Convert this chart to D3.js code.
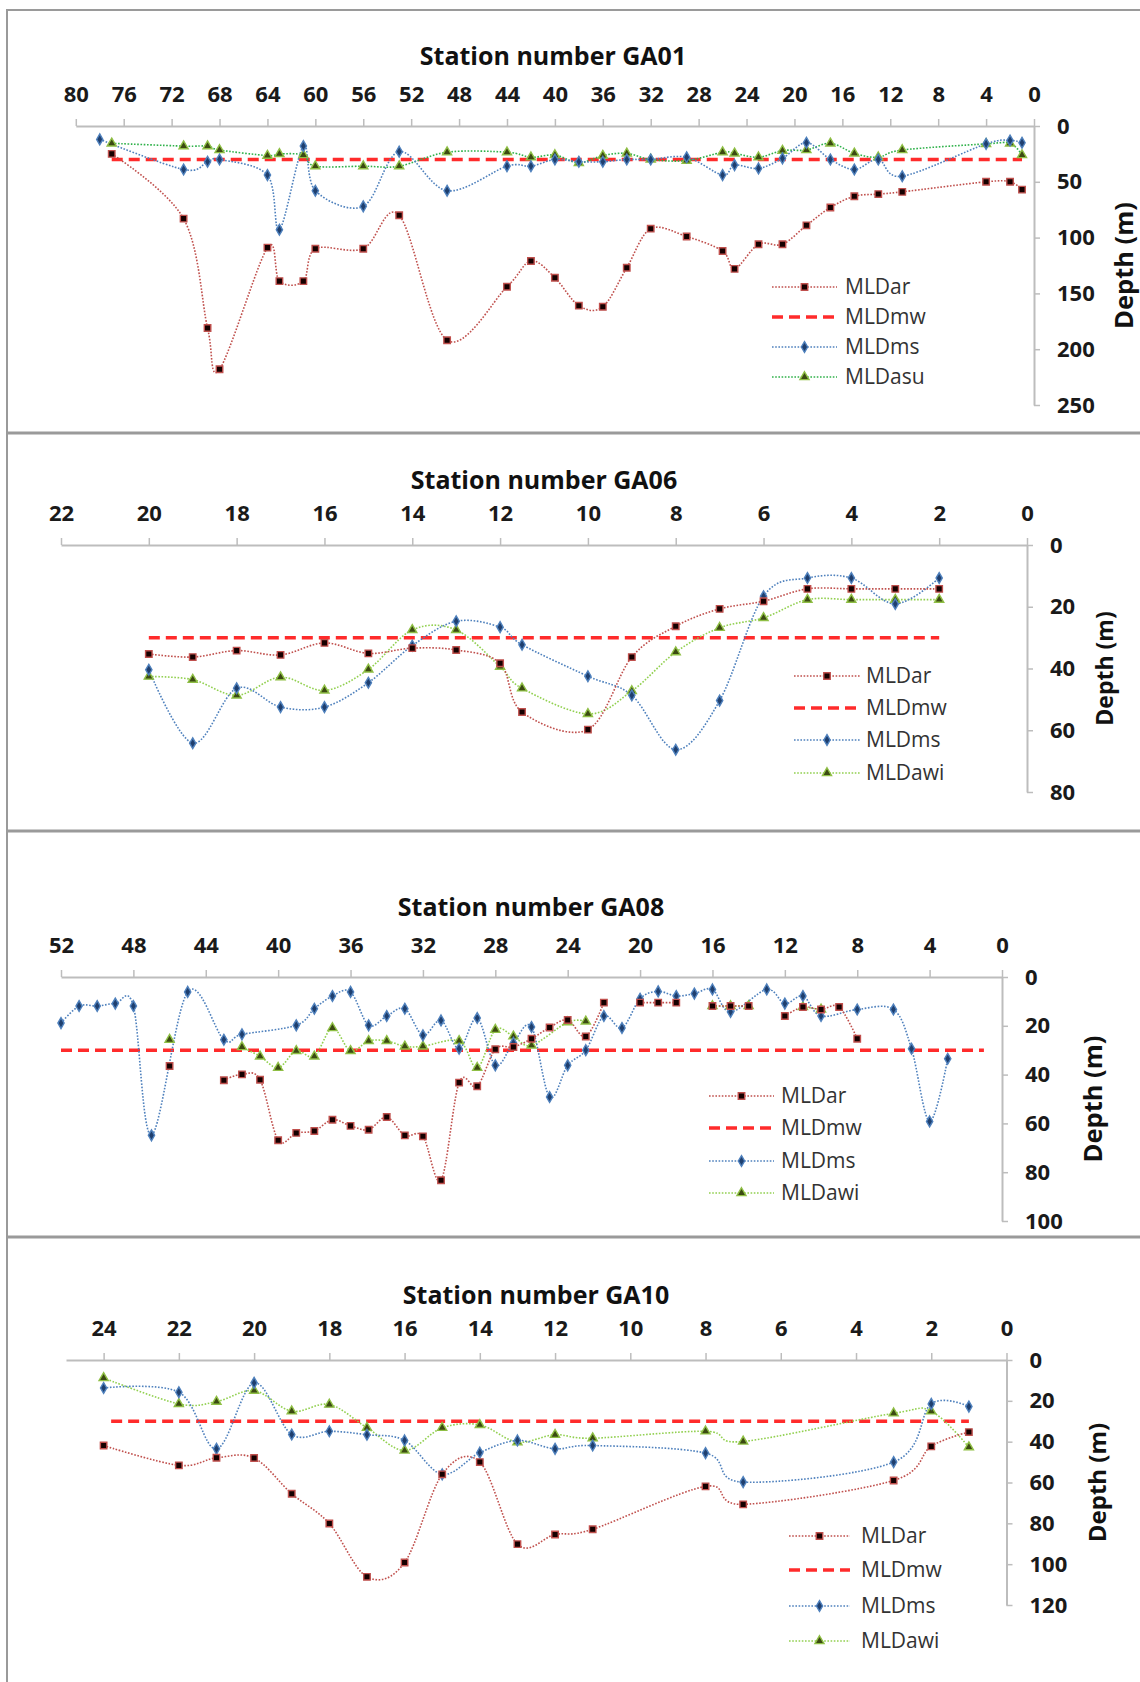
<!DOCTYPE html>
<html>
<head>
<meta charset="utf-8">
<script src="https://d3js.org/d3.v7.min.js"></script>
<style>
  body { margin: 0; background: #fff; }
  svg text { font-family: "Open Sans", "Noto Sans", sans-serif; }
</style>
</head>
<body>
<svg id="chart" width="1140" height="1682"></svg>
<script>
// ---------- data ----------
const seriesNames1 = ["MLDar", "MLDmw", "MLDms", "MLDasu"];
const seriesNames = ["MLDar", "MLDmw", "MLDms", "MLDawi"];
const mixedLayerRef = 30; // MLDmw constant

// GA01
const ga01XTicks = [80, 76, 72, 68, 64, 60, 56, 52, 48, 44, 40, 36, 32, 28, 24, 20, 16, 12, 8, 4, 0];
const ga01YTicks = [0, 50, 100, 150, 200, 250];
const ga01ArSt = [77, 71, 69, 68, 64, 63, 61, 60, 56, 53, 49, 44, 42, 40, 38, 36, 34, 32, 29, 26, 25, 23, 21, 19, 17, 15, 13, 11, 4, 2, 1];
const ga01Ar = [25, 83, 181, 218, 109, 139, 139, 110, 110, 80, 192, 144, 121, 136, 161, 162, 127, 92, 99, 112, 128, 106, 106, 89, 73, 63, 61, 59, 50, 50, 57];
const ga01MsSt = [78, 71, 69, 68, 64, 63, 61, 60, 56, 53, 49, 44, 42, 40, 38, 36, 34, 32, 29, 26, 25, 23, 21, 19, 17, 15, 13, 11, 4, 2, 1];
const ga01Ms = [12, 39, 32, 30, 44, 93, 18, 58, 72, 23, 58, 36, 36, 30, 32, 32, 30, 30, 28, 44, 35, 38, 29, 15, 30, 39, 30, 45, 16, 13, 15];
const ga01AsuSt = [77, 71, 69, 68, 64, 63, 61, 60, 56, 53, 49, 44, 42, 40, 38, 36, 34, 32, 29, 26, 25, 23, 21, 19, 17, 15, 13, 11, 4, 2, 1];
const ga01Asu = [15.5, 18, 18, 21.5, 26.5, 25, 26, 36, 36, 36, 23.5, 23.5, 28, 26, 33, 26.5, 24.5, 30, 31, 23.5, 24.5, 28, 22, 21.5, 15.5, 24.5, 28, 21.5, 16, 15.5, 26];
const ga01MwSt = [77, 1];

// GA06
const ga06XTicks = [22, 20, 18, 16, 14, 12, 10, 8, 6, 4, 2, 0];
const ga06YTicks = [0, 20, 40, 60, 80];
const ga06St = [20, 19, 18, 17, 16, 15, 14, 13, 12, 11.5, 10, 9, 8, 7, 6, 5, 4, 3, 2];
const ga06Ar = [35.3, 36.3, 34.2, 35.6, 31.7, 35.1, 33.4, 34, 38.3, 54.1, 59.8, 36.3, 26.3, 20.7, 18.2, 14.2, 14.2, 14.2, 14.2];
const ga06Ms = [40.4, 64.2, 46.4, 52.5, 52.5, 44.6, 32.6, 24.7, 26.6, 32.3, 42.5, 48.7, 66.3, 50.4, 16.6, 10.7, 10.7, 19.1, 10.7];
const ga06Awi = [42.6, 43.6, 48.7, 42.8, 47.1, 40.3, 27.5, 27.5, 39.4, 46.4, 54.7, 47.3, 34.7, 26.8, 23.6, 17.7, 17.7, 17.7, 17.7];
const ga06MwSt = [20, 2];

// GA08 (null = no value, the line breaks there)
const ga08XTicks = [52, 48, 44, 40, 36, 32, 28, 24, 20, 16, 12, 8, 4, 0];
const ga08YTicks = [0, 20, 40, 60, 80, 100];
const ga08ArSt = [46, 45, 43, 42, 41, 40, 39, 38, 37, 36, 35, 34, 33, 32, 31, 30, 29, 28, 27, 26, 25, 24, 23, 22, 21, 20, 19, 18, 17, 16, 15, 14, 13, 12, 11, 10, 9, 8];
const ga08Ar = [36.5, null, 42.3, 39.9, 42.1, 66.9, 63.9, 63.1, 58.5, 61, 62.6, 57.4, 64.9, 65.3, 83.3, 43.3, 44.8, 29.6, 28.7, 25.3, 20.7, 17.6, 24.4, 10.5, null, 10.5, 10.5, 10.5, null, 11.9, 11.9, 11.9, null, 16, 12.3, 13.3, 12.3, 25.3];
const ga08MsSt = [52, 51, 50, 49, 48, 47, 45, 43, 42, 39, 38, 37, 36, 35, 34, 33, 32, 31, 30, 29, 28, 27, 26, 25, 24, 23, 22, 21, 20, 19, 18, 17, 16, 15, 13, 12, 11, 10, 8, 6, 5, 4, 3];
const ga08Ms = [18.9, 11.9, 11.9, 10.9, 11.9, 64.9, 6.1, 25.7, 23.5, 19.8, 13, 7.8, 6.1, 19.8, 16, 13, 23.9, 17.8, 29.4, 16.8, 36.2, 27, 20.5, 49.2, 36.2, 30, 16, 20.9, 8.9, 5.9, 7.8, 6.8, 5.1, 14.3, 5.1, 10.9, 7.8, 16, 13.3, 13.3, 29.4, 59.2, 33.5];
const ga08AwiSt = [46, 45, 42, 41, 40, 39, 38, 37, 36, 35, 34, 33, 32, 30, 29, 28, 27, 26, 24, 23, 22, 16, 15, 14, 13, 11, 10];
const ga08Awi = [25.7, null, 28.7, 32.5, 37.2, 30.3, 32.5, 20.9, 30.3, 26.2, 26.2, 28.4, 28.4, 26.2, 37.2, 21.6, 24.3, 28, 18.5, 18.2, null, 11.9, 11.9, 11.9, null, 12.3, 13.3];
const ga08MwSt = [52, 1];

// GA10
const ga10XTicks = [24, 22, 20, 18, 16, 14, 12, 10, 8, 6, 4, 2, 0];
const ga10YTicks = [0, 20, 40, 60, 80, 100, 120];
const ga10St = [24, 22, 21, 20, 19, 18, 17, 16, 15, 14, 13, 12, 11, 8, 7, 3, 2, 1];
const ga10Ar = [41.9, 51.6, 47.9, 48, 65.5, 80.1, 106.2, 99.2, 56, 50, 90.2, 85.5, 82.9, 61.9, 70.7, 59, 42.3, 35.3];
const ga10Ms = [13.7, 15.8, 43.5, 11.2, 36.5, 34.9, 36.6, 39.4, 56, 45.4, 39.4, 43.5, 41.9, 45.6, 59.8, 50, 21.5, 22.8];
const ga10Awi = [8.8, 21.5, 20.4, 15, 25.1, 21.8, 33.2, 44.3, 33.2, 31.8, 40.2, 36.6, 38.3, 34.9, 39.9, 26.1, 25.1, 42.7];
const ga10MwSt = [23.8, 1];

// ---------- styles ----------
const styleAr = { stroke: "#c0504d", dash: "1.6,1.6", width: 1.6, marker: "square" };
const styleMw = { stroke: "#ff2b2b", dash: "11,6", width: 3.5, marker: null };
const styleMs = { stroke: "#4f81bd", dash: "1.6,1.6", width: 1.6, marker: "diamond" };
const styleAsu = { stroke: "#2fb14a", dash: "1.6,1.6", width: 1.6, marker: "triangle" };
const styleAwi = { stroke: "#92d050", dash: "1.6,1.6", width: 1.6, marker: "triangle" };

const markerDefs = {
  square: { type: d3.symbolSquare, size: 42, fill: "#150000", stroke: "#c0504d" },
  diamond: { type: d3.symbolDiamond, size: 34, fill: "#1f3f6e", stroke: "#4f81bd" },
  triangle: { type: d3.symbolTriangle, size: 36, fill: "#3b4a12", stroke: "#8fbf45" }
};

const zip = (st, v) => st.map((s, i) => ({ s: s, v: v[i] }));

const svg = d3.select("#chart");

// panel frames
const frame = svg.append("g").attr("stroke", "#9a9a9a").attr("fill", "none");
frame.append("line").attr("x1", 7).attr("x2", 7).attr("y1", 9).attr("y2", 1682).attr("stroke-width", 2);
[10, 433, 831, 1237].forEach(yy => {
  frame.append("line").attr("x1", 6).attr("x2", 1140).attr("y1", yy).attr("y2", yy)
    .attr("stroke-width", yy === 10 ? 2 : 3);
});

function drawMarker(g, kind, cx, cy) {
  const m = markerDefs[kind];
  g.append("path")
    .attr("d", d3.symbol().type(m.type).size(m.size)())
    .attr("transform", `translate(${cx},${cy})`)
    .attr("fill", m.fill)
    .attr("stroke", m.stroke)
    .attr("stroke-width", 1.4);
}

function drawPanel(p) {
  const g = svg.append("g");
  const x = d3.scaleLinear().domain(p.xDomain).range([p.x0, p.x1]);
  const y = d3.scaleLinear().domain([0, p.yMax]).range([p.y0, p.y1]);

  // title
  g.append("text")
    .attr("x", p.titleX).attr("y", p.titleY)
    .attr("text-anchor", "middle")
    .attr("font-size", 25).attr("font-weight", "bold").attr("fill", "#111")
    .text(p.title);

  // top x axis
  const xa = g.append("g")
    .attr("transform", `translate(0,${p.y0})`)
    .call(d3.axisTop(x).tickValues(p.xTicks).tickSize(7).tickSizeOuter(0).tickPadding(17));
  // right y axis at station 0
  const ya = g.append("g")
    .attr("transform", `translate(${x(0)},0)`)
    .call(d3.axisRight(y).tickValues(p.yTicks).tickSize(6).tickSizeOuter(0).tickPadding(17));
  [xa, ya].forEach(a => {
    a.select(".domain").attr("stroke", "#bdbdbd").attr("stroke-width", 2);
    a.selectAll(".tick line").attr("stroke", "#bdbdbd").attr("stroke-width", 1.5);
    a.selectAll(".tick text")
      .attr("font-family", "'Open Sans', sans-serif")
      .attr("font-size", 22).attr("font-weight", "bold").attr("fill", "#1a1a1a");
  });

  g.append("text")
    .attr("transform", `translate(${p.depthX},${(p.y0 + p.y1) / 2}) rotate(-90)`)
    .attr("text-anchor", "middle").attr("dy", "0.35em")
    .attr("font-size", p.depthSize).attr("font-weight", "bold").attr("fill", "#111")
    .text("Depth (m)");

  const line = d3.line()
    .defined(d => d.v !== null)
    .x(d => x(d.s)).y(d => y(d.v))
    .curve(d3.curveCardinal.tension(0));

  // draw order: mw first, then green, ms, ar
  p.series.forEach(sr => {
    g.append("path")
      .datum(sr.data)
      .attr("fill", "none")
      .attr("stroke", sr.style.stroke)
      .attr("stroke-width", sr.style.width)
      .attr("stroke-dasharray", sr.style.dash)
      .attr("d", sr.style.marker ? line : d3.line().x(d => x(d.s)).y(d => y(d.v)));
  });
  p.series.forEach(sr => {
    if (!sr.style.marker) return;
    sr.data.filter(d => d.v !== null).forEach(d => drawMarker(g, sr.style.marker, x(d.s), y(d.v)));
  });

  // legend
  const lg = g.append("g");
  p.legendOrder.forEach((sr, i) => {
    const ly = p.legend.rows[i];
    lg.append("line")
      .attr("x1", p.legend.x1).attr("x2", p.legend.x2).attr("y1", ly).attr("y2", ly)
      .attr("stroke", sr.style.stroke).attr("stroke-width", sr.style.marker ? 1.6 : 3.5)
      .attr("stroke-dasharray", sr.style.marker ? "1.6,1.6" : "11,6");
    if (sr.style.marker) drawMarker(lg, sr.style.marker, (p.legend.x1 + p.legend.x2) / 2, ly);
    lg.append("text")
      .attr("x", p.legend.tx).attr("y", ly).attr("dy", "0.35em")
      .attr("font-size", 21).attr("fill", "#333")
      .text(sr.name);
  });
}

function buildPanel(geom, names, ar, mw, ms, green, greenStyle) {
  const sAr = { name: names[0], data: ar, style: styleAr };
  const sMw = { name: names[1], data: mw, style: styleMw };
  const sMs = { name: names[2], data: ms, style: styleMs };
  const sGr = { name: names[3], data: green, style: greenStyle };
  return Object.assign({}, geom, {
    series: [sMw, sGr, sMs, sAr],
    legendOrder: [sAr, sMw, sMs, sGr]
  });
}

drawPanel(buildPanel({
  title: "Station number GA01", titleX: 553, titleY: 65,
  xDomain: [80, 0], x0: 75.8, x1: 1034, xTicks: ga01XTicks,
  yMax: 250, y0: 126, y1: 405, yTicks: ga01YTicks, depthX: 1124, depthSize: 25.5,
  legend: { x1: 772, x2: 837, tx: 845, rows: [287, 317, 347, 377] }
}, seriesNames1,
  zip(ga01ArSt, ga01Ar), zip(ga01MwSt, ga01MwSt.map(() => mixedLayerRef)),
  zip(ga01MsSt, ga01Ms), zip(ga01AsuSt, ga01Asu), styleAsu));

drawPanel(buildPanel({
  title: "Station number GA06", titleX: 544, titleY: 489,
  xDomain: [22, 0], x0: 61, x1: 1027, xTicks: ga06XTicks,
  yMax: 80, y0: 545, y1: 792, yTicks: ga06YTicks, depthX: 1105, depthSize: 23,
  legend: { x1: 794, x2: 860, tx: 866, rows: [676, 708, 740, 773] }
}, seriesNames,
  zip(ga06St, ga06Ar), zip(ga06MwSt, ga06MwSt.map(() => mixedLayerRef)),
  zip(ga06St, ga06Ms), zip(ga06St, ga06Awi), styleAwi));

drawPanel(buildPanel({
  title: "Station number GA08", titleX: 531, titleY: 916,
  xDomain: [52, 0], x0: 61, x1: 1002, xTicks: ga08XTicks,
  yMax: 100, y0: 977, y1: 1221, yTicks: ga08YTicks, depthX: 1093, depthSize: 25.5,
  legend: { x1: 709, x2: 774, tx: 781, rows: [1096, 1128, 1161, 1193] }
}, seriesNames,
  zip(ga08ArSt, ga08Ar), zip(ga08MwSt, ga08MwSt.map(() => mixedLayerRef)),
  zip(ga08MsSt, ga08Ms), zip(ga08AwiSt, ga08Awi), styleAwi));

drawPanel(buildPanel({
  title: "Station number GA10", titleX: 536, titleY: 1304,
  xDomain: [25, 0], x0: 66, x1: 1006.5, xTicks: ga10XTicks,
  yMax: 120, y0: 1360, y1: 1605, yTicks: ga10YTicks, depthX: 1098, depthSize: 24,
  legend: { x1: 789, x2: 850, tx: 861, rows: [1536, 1570, 1606, 1641] }
}, seriesNames,
  zip(ga10St, ga10Ar), zip(ga10MwSt, ga10MwSt.map(() => mixedLayerRef)),
  zip(ga10St, ga10Ms), zip(ga10St, ga10Awi), styleAwi));
</script>
</body>
</html>
